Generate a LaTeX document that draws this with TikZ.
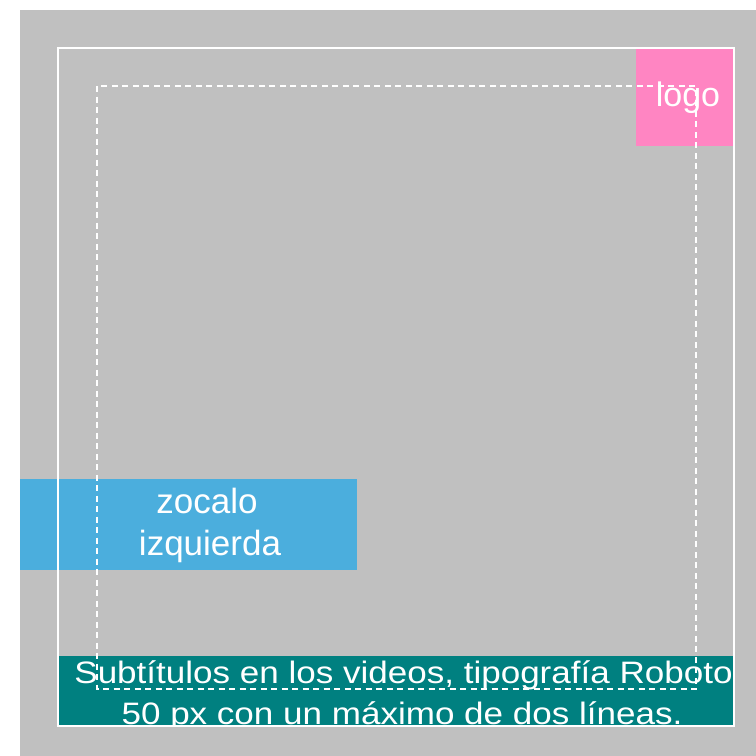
\documentclass[tikz,border=0pt]{standalone}
\usepackage{fontspec}
\setmainfont{Liberation Sans}
\newfontfamily\subfont[FakeStretch=1.13]{Liberation Sans}
\definecolor{bggray}{HTML}{C0C0C0}
\definecolor{logopink}{HTML}{FF85C2}
\definecolor{zocblue}{HTML}{4BAEDD}
\definecolor{subteal}{HTML}{008080}
\tikzset{
  area/.style={fill=#1, draw=none},
  frameline/.style={draw=white, line width=2pt},
  safeline/.style={draw=white, line width=1.5pt, dash pattern=on 6pt off 4.5pt},
  whitetext/.style={text=white, inner sep=0pt, anchor=base},
}
\begin{document}
\begin{tikzpicture}[x=1pt,y=-1pt]
\useasboundingbox (0,0) rectangle (756,756);
% background
\fill[bggray] (20,10) rectangle (756,756);
% areas
\fill[zocblue] (20,479) rectangle (357,570);
\fill[subteal] (58,656) rectangle (733.5,726);
\fill[logopink] (636,48) rectangle (733.5,145.5);
% texts
\node[whitetext, font=\fontsize{34}{40}\selectfont] (logo) at (688,106) {logo};
\node[whitetext, font=\fontsize{35}{42}\selectfont] (zoc1) at (207,513) {zocalo};
\node[whitetext, font=\fontsize{35}{42}\selectfont] (zoc2) at (210,555) {izquierda};
\begin{scope}
\clip (58,656) rectangle (733.5,726);
\node[whitetext, font=\subfont\fontsize{31}{40}\selectfont] (sub1) at (403.5,683) {Subtítulos en los videos, tipografía Roboto};
\node[whitetext, font=\subfont\fontsize{31}{40}\selectfont] (sub2) at (402,724) {50 px con un máximo de dos líneas.};
\end{scope}
% frame
\draw[frameline] (58,48) rectangle (733.5,726);
% safe area
\draw[safeline] (97,86) rectangle (696,689);
\end{tikzpicture}
\end{document}
